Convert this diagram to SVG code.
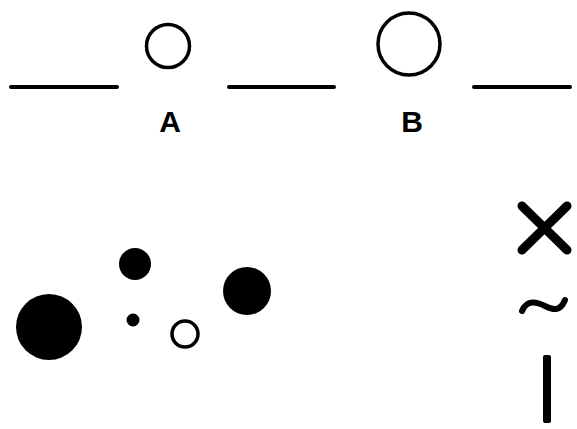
<svg xmlns="http://www.w3.org/2000/svg" width="577" height="429" viewBox="0 0 577 429">
<style>
.ln{stroke:#000;stroke-width:4;stroke-linecap:round;fill:none}
.ring{fill:none;stroke:#000;stroke-width:3.5}
.dot{fill:#000}
.lbl{font-family:"Liberation Sans",Arial,sans-serif;font-weight:bold;font-size:30px;fill:#000;text-anchor:middle}
.sym{stroke:#000;fill:none;stroke-linecap:round}
</style>
<rect width="577" height="429" fill="#fff"/>
<g id="connectors">
<line class="ln" x1="11" y1="87" x2="117" y2="87"/>
<line class="ln" x1="229" y1="87" x2="334" y2="87"/>
<line class="ln" x1="474" y1="87" x2="570" y2="87"/>
</g>
<g id="nodeA">
<circle class="ring" cx="168" cy="46" r="21.5"/>
<text class="lbl" x="170" y="132">A</text>
</g>
<g id="nodeB">
<circle class="ring" cx="409" cy="44" r="31"/>
<text class="lbl" x="412" y="132">B</text>
</g>
<g id="dots">
<circle class="dot" cx="49" cy="327" r="33"/>
<circle class="dot" cx="135" cy="264" r="16"/>
<circle class="dot" cx="247" cy="291" r="24"/>
<circle class="dot" cx="133" cy="320" r="6.5"/>
<circle class="ring" cx="185" cy="334" r="13" stroke-width="4"/>
</g>
<g id="symbols">
<line class="sym" stroke-width="9" x1="522" y1="206" x2="567" y2="250"/>
<line class="sym" stroke-width="9" x1="567" y1="206" x2="522" y2="250"/>
<path class="sym" stroke-width="6" d="M522,311 C527,299 537,302 545,306 C553,310 560,312 565,300"/>
<rect class="dot" x="543" y="355" width="8" height="68" rx="2"/>
</g>
</svg>
